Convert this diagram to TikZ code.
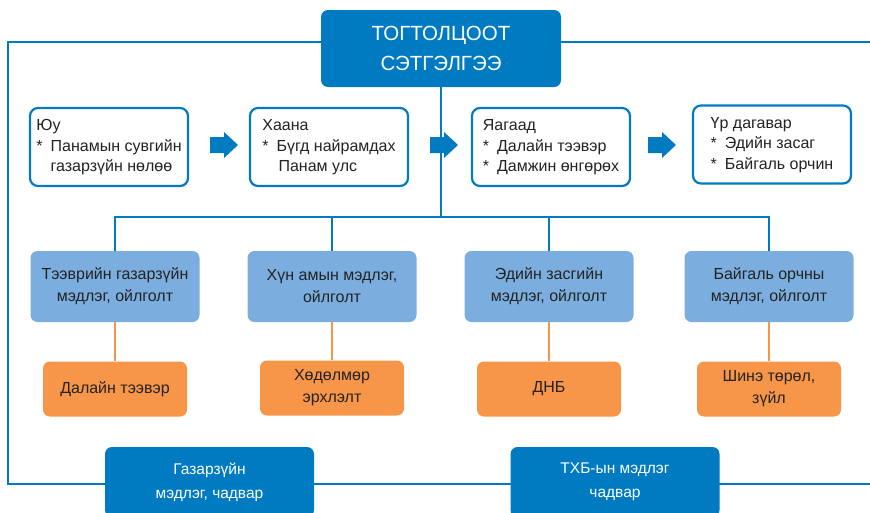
\documentclass[tikz,border=0pt]{standalone}
\usepackage{fontspec}
\setmainfont{Liberation Sans}
\usetikzlibrary{backgrounds}
\definecolor{dblue}{RGB}{0,123,194}
\definecolor{lblue}{RGB}{123,174,222}
\definecolor{orng}{RGB}{247,150,72}
\definecolor{txt}{RGB}{35,35,35}
\newcommand\blockarrow[1]{\fill[dblue] (#1) ++(0,-8) -- ++(14,0) -- ++(0,-5) -- ++(14,13) -- ++(-14,13) -- ++(0,-5) -- ++(-14,0) -- cycle;}
\begin{document}
\begin{tikzpicture}[x=1pt,y=-1pt,
  topbox/.style={fill=dblue, rounded corners=7pt, minimum width=240pt, minimum height=77pt, text=white, font=\fontsize{20.5}{30}\selectfont, align=center, inner sep=0pt},
  wbox/.style={draw=dblue, line width=2.2pt, fill=white, rounded corners=8pt, minimum width=158pt, minimum height=78pt, text=txt, font=\fontsize{16}{20.5}\selectfont, inner sep=0pt},
  lbox/.style={fill=lblue, rounded corners=7pt, minimum width=169pt, minimum height=71pt, text=txt, font=\fontsize{16}{22}\selectfont, align=center, inner sep=0pt},
  obox/.style={fill=orng, rounded corners=7pt, minimum width=144pt, minimum height=55pt, text=txt, font=\fontsize{16}{22}\selectfont, align=center, inner sep=0pt},
  gbox/.style={fill=dblue, rounded corners=7pt, minimum width=209pt, minimum height=70pt, text=white, font=\fontsize{15.5}{24}\selectfont, align=center, inner sep=0pt},
  bline/.style={draw=dblue, line width=2.4pt},
  oline/.style={draw=orng, line width=2pt}]
\useasboundingbox (0,0) rectangle (870,512);
\clip (0,0) rectangle (870,512);

\node[topbox] (top) at (441,48.5) {ТОГТОЛЦООТ\\СЭТГЭЛГЭЭ};

\node[wbox] (w1) at (109,147) {\begin{tabular}{@{}l@{\hspace{8pt}}l@{}}\multicolumn{2}{@{}l@{}}{Юу}\\ {*} & Панамын сувгийн\\ & газарзүйн нөлөө\end{tabular}};
\node[wbox] (w2) at (329,147) {\begin{tabular}{@{}l@{\hspace{8pt}}l@{}}\multicolumn{2}{@{}l@{}}{Хаана}\\ {*} & Бүгд найрамдах\\ & \hspace{2pt}Панам улс\end{tabular}};
\node[wbox] (w3) at (551,147) {\begin{tabular}{@{}l@{\hspace{8pt}}l@{}}\multicolumn{2}{@{}l@{}}{Яагаад}\\ {*} & Далайн тээвэр\\ {*} & Дамжин өнгөрөх\end{tabular}};
\node[wbox] (w4) at (772,144.5) {\begin{tabular}{@{}l@{\hspace{8pt}}l@{}}\multicolumn{2}{@{}l@{}}{Үр дагавар}\\ {*} & Эдийн засаг\\ {*} & Байгаль орчин\end{tabular}};

\blockarrow{210,145}
\blockarrow{430,145}
\blockarrow{648,145}

\node[lbox] (b1) at (115,286.5) {Тээврийн газарзүйн\\мэдлэг, ойлголт};
\node[lbox] (b2) at (332,286.5) {Хүн амын мэдлэг,\\ойлголт};
\node[lbox] (b3) at (549,286.5) {Эдийн засгийн\\мэдлэг, ойлголт};
\node[lbox] (b4) at (769,286.5) {Байгаль орчны\\мэдлэг, ойлголт};

\node[obox] (o1) at (115,389) {Далайн тээвэр};
\node[obox] (o2) at (332,388) {Хөдөлмөр\\эрхлэлт};
\node[obox] (o3) at (549,389) {ДНБ};
\node[obox] (o4) at (769,389) {Шинэ төрөл,\\зүйл};

\node[gbox] (g1) at (209.5,482) {Газарзүйн\\мэдлэг, чадвар};
\node[gbox] (g2) at (615,482) {ТХБ-ын мэдлэг\\чадвар};

\begin{scope}[on background layer]
\coordinate (fy) at (0,42);
\coordinate (fl) at (8,42);
\coordinate (fb) at (8,484);
\coordinate (fr) at (880,484);
\coordinate (ft) at (880,42);
\coordinate (hy) at (0,217);
\draw[bline] (top.west |- fy) -- (fl) -- (fb) -- (fr);
\draw[bline] (top.east |- fy) -- (ft);
\draw[bline] (top.south) -- (top.south |- hy);
\draw[bline] (b1.north) -- (b1.north |- hy) -- (b4.north |- hy) -- (b4.north);
\draw[bline] (b2.north) -- (b2.north |- hy);
\draw[bline] (b3.north) -- (b3.north |- hy);
\draw[oline] (b1.south) -- (o1.north);
\draw[oline] (b2.south) -- (o2.north);
\draw[oline] (b3.south) -- (o3.north);
\draw[oline] (b4.south) -- (o4.north);
\end{scope}
\end{tikzpicture}
\end{document}
